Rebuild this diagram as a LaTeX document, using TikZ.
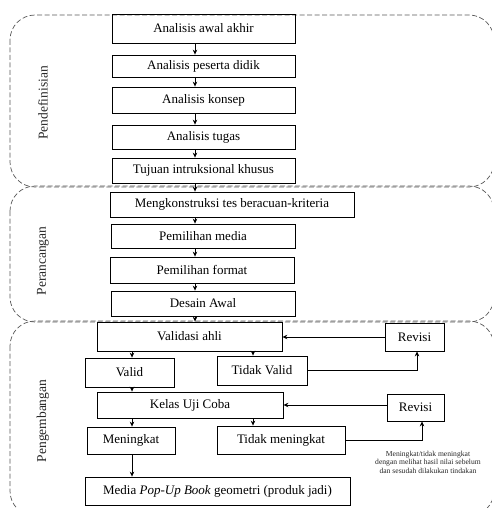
\documentclass[tikz,border=0pt]{standalone}
\usepackage{fontspec}
\setmainfont{Liberation Serif}
\usetikzlibrary{arrows.meta}

\begin{document}
\begin{tikzpicture}[x=1pt, y=-1pt, >={Stealth[length=5pt,width=4.5pt]},
    tahap/.style={draw, line width=0.8pt, inner sep=0pt, font=\fontsize{13}{15}\selectfont},
    wilayah/.style={draw=black!65, line width=0.7pt, dash pattern=on 5pt off 2.5pt, rounded corners=25pt},
    judul/.style={rotate=90, font=\fontsize{13.5}{15}\selectfont, text=black!85},
    panah/.style={->, line width=0.7pt}]

    \useasboundingbox (0,0) rectangle (491,508);

    % --- Wilayah tahap (garis putus-putus) ---
    \draw[wilayah] (10,15) rectangle (494,187);
    \draw[wilayah] (10,186) rectangle (494,322);
    \draw[wilayah] (10,321) rectangle (494,516);

    % --- Judul tahap ---
    \node[judul] (pendefinisian) at (43,103) {Pendefinisian};
    \node[judul] (perancangan) at (43,261) {Perancangan};
    \node[judul] (pengembangan) at (43,421) {Pengembangan};

    % --- Tahap pendefinisian ---
    \node[tahap, minimum width=183pt, minimum height=29pt] (awal) at (203.5,28.5) {Analisis awal akhir};
    \node[tahap, minimum width=183pt, minimum height=22pt] (peserta) at (203.5,66) {Analisis peserta didik};
    \node[tahap, minimum width=183pt, minimum height=26pt] (konsep) at (203.5,100) {Analisis konsep};
    \node[tahap, minimum width=183pt, minimum height=24pt] (tugas) at (203.5,137) {Analisis tugas};
    \node[tahap, minimum width=183pt, minimum height=25pt] (tujuan) at (203.5,170.5) {Tujuan intruksional khusus};

    % --- Tahap perancangan ---
    \node[tahap, minimum width=244pt, minimum height=25pt] (tes) at (232,204.5) {Mengkonstruksi tes beracuan-kriteria};
    \node[tahap, minimum width=184pt, minimum height=24pt] (media) at (203,236) {Pemilihan media};
    \node[tahap, minimum width=184pt, minimum height=26pt] (format) at (202,270) {Pemilihan format};
    \node[tahap, minimum width=184pt, minimum height=25pt] (desain) at (203,303.5) {Desain Awal};

    % --- Tahap pengembangan ---
    \node[tahap, minimum width=185pt, minimum height=29pt] (validasi) at (189.5,336.5) {Validasi ahli};
    \node[tahap, minimum width=59pt, minimum height=28pt] (revisiA) at (414.5,337) {Revisi};
    \node[tahap, minimum width=89pt, minimum height=29pt] (valid) at (129.5,372.5) {Valid};
    \node[tahap, minimum width=90pt, minimum height=29pt] (tidakvalid) at (262,370.5) {Tidak Valid};
    \node[tahap, minimum width=186pt, minimum height=26pt] (ujicoba) at (190,405) {Kelas Uji Coba};
    \node[tahap, minimum width=57pt, minimum height=27pt] (revisiB) at (415.5,407.5) {Revisi};
    \node[tahap, minimum width=88pt, minimum height=27pt] (meningkat) at (131,440.5) {Meningkat};
    \node[tahap, minimum width=128pt, minimum height=28pt] (tidakmeningkat) at (281,440) {Tidak meningkat};
    \node[tahap, minimum width=265pt, minimum height=28pt] (produk) at (217.5,491) {Media \textit{Pop-Up Book} geometri (produk jadi)};

    % --- Keterangan ---
    \node[align=center, font=\fontsize{7.6}{8.6}\selectfont, text=black!85] (ket) at (428,462) {Meningkat/tidak meningkat\\dengan melihat hasil nilai sebelum\\dan sesudah dilakukan tindakan};

    % --- Kolom panah ---
    \coordinate (tengah) at (195,0);
    \coordinate (kolomA) at (132,0);
    \coordinate (kolomB) at (253,0);

    % --- Panah alur utama ---
    \draw[panah] (awal.south -| tengah) -- (peserta.north -| tengah);
    \draw[panah] (peserta.south -| tengah) -- (konsep.north -| tengah);
    \draw[panah] (konsep.south -| tengah) -- (tugas.north -| tengah);
    \draw[panah] (tugas.south -| tengah) -- (tujuan.north -| tengah);
    \draw[panah] (tujuan.south -| tengah) -- (tes.north -| tengah);
    \draw[panah] (tes.south -| tengah) -- (media.north -| tengah);
    \draw[panah] (media.south -| tengah) -- (format.north -| tengah);
    \draw[panah] (format.south -| tengah) -- (desain.north -| tengah);
    \draw[panah] (desain.south -| tengah) -- (validasi.north -| tengah);

    % --- Panah validasi ---
    \draw[panah] (validasi.south -| kolomA) -- (valid.north -| kolomA);
    \draw[panah] (validasi.south -| kolomB) -- (tidakvalid.north -| kolomB);
    \draw[panah] (valid.south -| kolomA) -- (ujicoba.north -| kolomA);
    \draw[panah] (tidakvalid.east) -| ([xshift=2.5pt]revisiA.south);
    \draw[panah] (revisiA.west) -- (revisiA.west -| validasi.east);

    % --- Panah uji coba ---
    \draw[panah] (ujicoba.south -| kolomA) -- (meningkat.north -| kolomA);
    \draw[panah] (ujicoba.south -| kolomB) -- (tidakmeningkat.north -| kolomB);
    \draw[panah] (meningkat.south -| kolomA) -- (produk.north -| kolomA);
    \draw[panah] (tidakmeningkat.east) -| ([xshift=6.5pt]revisiB.south);
    \draw[panah] (revisiB.west |- ujicoba.east) -- (ujicoba.east);

\end{tikzpicture}
\end{document}
